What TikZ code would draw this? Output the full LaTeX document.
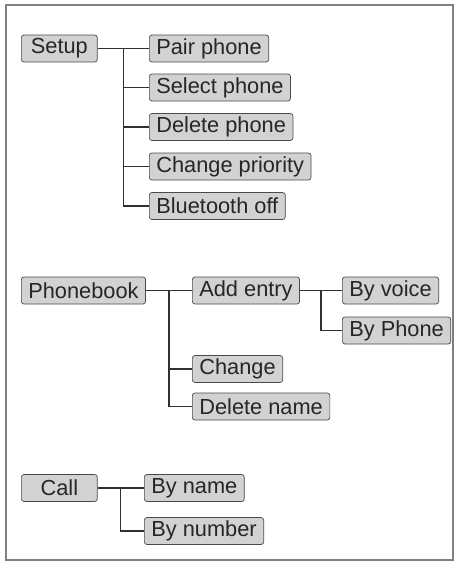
\documentclass[tikz,border=0pt]{standalone}
\usepackage{fontspec}
\setmainfont{Liberation Sans}
\usetikzlibrary{calc}
\definecolor{boxfill}{HTML}{D2D2D2}
\definecolor{boxline}{HTML}{4A4A4A}
\definecolor{wire}{HTML}{303030}
\tikzset{
  item/.style={draw=boxline, fill=boxfill, rounded corners=1.5pt, anchor=west,
    minimum height=0.54cm, inner xsep=0.14cm, inner ysep=0pt, text=black!85,
    font=\fontsize{12.4}{14}\selectfont},
  topitem/.style={item, minimum width=1.52cm},
  wire/.style={draw=wire, line width=0.7pt}
}
\begin{document}
\begin{tikzpicture}[x=0.02cm, y=-0.02cm]
  \useasboundingbox (0,0) rectangle (456,562);
  \draw[gray, line width=1.1pt] (6,5) rectangle (453,560);

  % Setup menu
  \node[topitem] (setup) at (21,48.5) {Setup};
  \node[item] (pair) at (149,48.5) {Pair phone};
  \node[item] (select) at (149,87.5) {Select phone};
  \node[item] (delete) at (149,127) {Delete phone};
  \node[item] (prio) at (149,166.5) {Change priority};
  \node[item] (btoff) at (149,206) {Bluetooth off};
  \coordinate (t1) at ($(setup.east)!0.5!(pair.west)$);
  \draw[wire] (setup) -- (pair);
  \foreach \n in {select,delete,prio,btoff}
    \draw[wire] (t1) |- (\n.west);

  % Phonebook menu
  \node[topitem] (book) at (21,290.5) {Phonebook};
  \node[item] (add) at (192,290.5) {Add entry};
  \node[item] (voice) at (342,290.5) {By voice};
  \node[item] (byphone) at (342,330.5) {By Phone};
  \node[item] (change) at (192,369) {Change};
  \node[item] (delname) at (192,406.5) {Delete name};
  \coordinate (t2) at ($(book.east)!0.5!(add.west)$);
  \coordinate (t3) at ($(add.east)!0.5!(voice.west)$);
  \draw[wire] (book) -- (add);
  \draw[wire] (add) -- (voice);
  \draw[wire] (t3) |- (byphone.west);
  \foreach \n in {change,delname}
    \draw[wire] (t2) |- (\n.west);

  % Call menu
  \node[topitem] (call) at (21,488) {Call};
  \node[item] (byname) at (144,488) {By name};
  \node[item] (bynum) at (144,531) {By number};
  \coordinate (t4) at ($(call.east)!0.5!(byname.west)$);
  \draw[wire] (call) -- (byname);
  \draw[wire] (t4) |- (bynum.west);
\end{tikzpicture}
\end{document}
